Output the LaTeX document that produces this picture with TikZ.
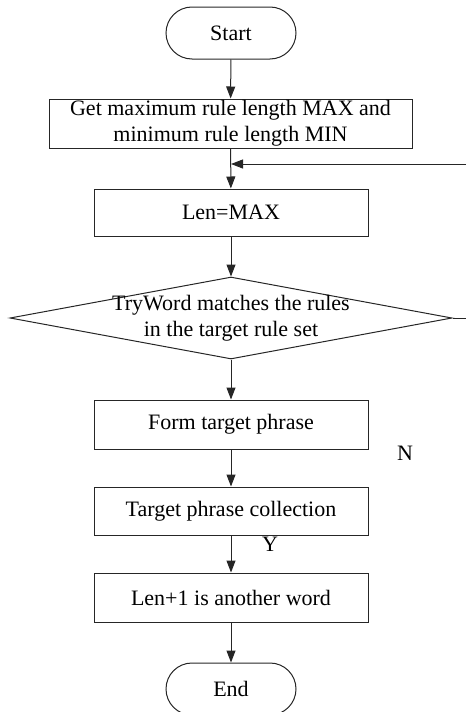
\documentclass[tikz,border=0pt]{standalone}
\usepackage{fontspec}
\setmainfont{Liberation Serif}
\usetikzlibrary{shapes.geometric,arrows.meta}
\begin{document}
\begin{tikzpicture}[x=1pt,y=-1pt,
  every node/.style={font=\fontsize{22}{26}\selectfont},
  base/.style={draw=black!85,line width=1pt,inner sep=0pt,align=center},
  term/.style={base,rounded corners=26pt,minimum width=130pt,minimum height=52pt},
  stepbox/.style={base,minimum width=274pt,minimum height=48pt},
  widebox/.style={base,minimum width=363pt,minimum height=49pt},
  dia/.style={base,diamond,minimum width=442pt,minimum height=82pt},
  plain/.style={inner sep=0pt,align=center},
  arr/.style={draw=black!85,line width=1pt,-{Triangle[length=12pt,width=9pt]}},
  ln/.style={draw=black!85,line width=1pt}]
\useasboundingbox (0,0) rectangle (466,712);
\begin{scope}
\clip (0,0) rectangle (466,712);
\node[term] (start) at (231,33) {Start};
\node[widebox] (get) at (230.5,123.5) {Get maximum rule length MAX and\\minimum rule length MIN};
\node[stepbox,minimum height=47pt] (len) at (231,212.5) {Len=MAX};
\node[dia] (dec) at (231,318) {};
\node[plain] (dect) at (dec.center) {TryWord matches the rules\\in the target rule set};
\node[stepbox,minimum height=49pt] (form) at (231,424.5) {Form target phrase};
\node[stepbox] (coll) at (231,511) {Target phrase collection};
\node[stepbox,minimum height=49pt] (next) at (231,597.5) {Len+1 is another word};
\node[term] (end) at (231,689) {End};
\node[plain] (n) at (405,453) {N};
\node[plain] (y) at (270,544) {Y};
\coordinate (fb) at (466,164);
\coordinate (fbend) at (231,164);
\coordinate (dr) at (466,318);

\draw[arr] (start) -- (get);
\draw[arr] (get) -- (len);
\draw[arr] (fb) -- (fbend);
\draw[arr] (len) -- (dec);
\draw[ln] (dec.east) -- (dr);
\draw[arr] (dec) -- (form);
\draw[arr] (form) -- (coll);
\draw[arr] (coll) -- (next);
\draw[arr] (next) -- (end);
\end{scope}
\end{tikzpicture}
\end{document}
